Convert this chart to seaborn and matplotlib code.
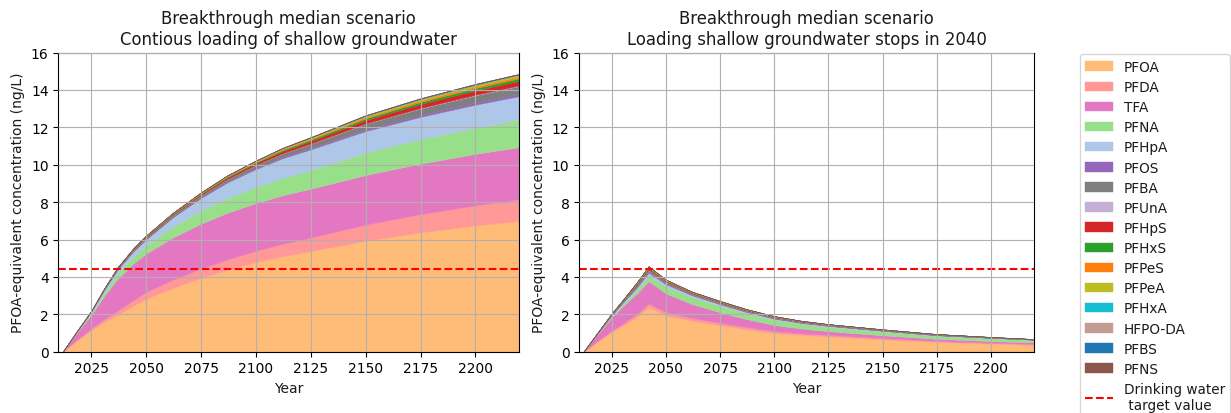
import matplotlib
matplotlib.use("Agg")
import matplotlib.pyplot as plt
import seaborn as sns

# ---- data -------------------------------------------------------------
years = [2012, 2018, 2025, 2031, 2037, 2044, 2050, 2062, 2075, 2087,
         2100, 2112, 2125, 2150, 2175, 2200, 2220]

# Continuous loading scenario (ng/L, PFOA-equivalent)
cont_PFOA = [0, 0.55, 1.15, 1.6, 1.98, 2.45, 2.84, 3.4, 3.95, 4.38, 4.8, 5.1, 5.38, 5.93, 6.38, 6.75, 7.0]
cont_PFDA = [0, 0.05, 0.1, 0.15, 0.22, 0.3, 0.36, 0.45, 0.5, 0.55, 0.6, 0.66, 0.72, 0.87, 0.98, 1.08, 1.15]
cont_TFA = [0, 0.35, 0.72, 1.25, 1.7, 1.95, 2.05, 2.25, 2.4, 2.5, 2.55, 2.6, 2.62, 2.65, 2.7, 2.75, 2.79]
cont_PFNA = [0, 0.03, 0.09, 0.18, 0.28, 0.37, 0.44, 0.58, 0.7, 0.78, 0.85, 0.93, 1.0, 1.2, 1.3, 1.4, 1.48]
cont_PFHpA = [0, 0.03, 0.08, 0.15, 0.22, 0.28, 0.33, 0.5, 0.68, 0.85, 0.97, 1.05, 1.1, 1.15, 1.2, 1.23, 1.25]
cont_PFOS = [0, 0.002, 0.005, 0.008, 0.012, 0.016, 0.02, 0.024, 0.03, 0.038, 0.046, 0.056, 0.066, 0.085, 0.1, 0.112, 0.12]
cont_PFBA = [0, 0.007, 0.018, 0.028, 0.042, 0.056, 0.07, 0.084, 0.105, 0.133, 0.161, 0.196, 0.231, 0.3, 0.35, 0.39, 0.42]
cont_PFUnA = [0, 0.0005, 0.001, 0.002, 0.003, 0.004, 0.005, 0.006, 0.008, 0.01, 0.012, 0.014, 0.017, 0.021, 0.025, 0.028, 0.03]
cont_PFHpS = [0, 0.004, 0.01, 0.017, 0.025, 0.034, 0.042, 0.05, 0.063, 0.08, 0.097, 0.118, 0.139, 0.18, 0.21, 0.235, 0.25]
cont_PFHxS = [0, 0.002, 0.006, 0.009, 0.013, 0.018, 0.022, 0.026, 0.033, 0.042, 0.05, 0.062, 0.073, 0.093, 0.11, 0.122, 0.13]
cont_PFPeS = [0, 0.002, 0.004, 0.007, 0.01, 0.013, 0.017, 0.02, 0.025, 0.032, 0.038, 0.047, 0.055, 0.071, 0.083, 0.093, 0.1]
cont_PFPeA = [0, 0.001, 0.003, 0.005, 0.008, 0.011, 0.013, 0.016, 0.02, 0.025, 0.031, 0.037, 0.044, 0.057, 0.067, 0.075, 0.08]
cont_PFHxA = [0, 0.0003, 0.001, 0.001, 0.002, 0.003, 0.003, 0.004, 0.005, 0.006, 0.008, 0.009, 0.011, 0.014, 0.017, 0.019, 0.02]
cont_HFPODA = [0, 0.0003, 0.001, 0.001, 0.002, 0.003, 0.003, 0.004, 0.005, 0.006, 0.008, 0.009, 0.011, 0.014, 0.017, 0.019, 0.02]
cont_PFBS = [0, 0, 0.0004, 0.0007, 0.001, 0.0013, 0.0017, 0.002, 0.0025, 0.003, 0.004, 0.0045, 0.0055, 0.007, 0.008, 0.009, 0.01]
cont_PFNS = [0, 0.0003, 0.001, 0.001, 0.002, 0.003, 0.003, 0.004, 0.005, 0.006, 0.008, 0.009, 0.011, 0.014, 0.017, 0.019, 0.02]

# Loading stops in 2040 scenario
years_stop = [2012, 2018, 2025, 2031, 2037, 2042, 2050, 2062, 2075, 2087,
              2100, 2112, 2125, 2150, 2175, 2200, 2220]
stop_PFOA = [0, 0.5, 1.05, 1.45, 1.9, 2.4, 1.95, 1.65, 1.42, 1.2, 1.0, 0.9, 0.82, 0.66, 0.52, 0.43, 0.37]
stop_PFDA = [0, 0.04, 0.08, 0.12, 0.15, 0.18, 0.17, 0.15, 0.13, 0.12, 0.1, 0.09, 0.08, 0.07, 0.06, 0.05, 0.05]
stop_TFA = [0, 0.33, 0.7, 0.95, 1.1, 1.2, 1.0, 0.75, 0.56, 0.43, 0.33, 0.26, 0.2, 0.15, 0.11, 0.09, 0.08]
stop_PFNA = [0, 0.02, 0.06, 0.12, 0.2, 0.3, 0.36, 0.37, 0.35, 0.31, 0.28, 0.25, 0.23, 0.2, 0.16, 0.14, 0.12]
stop_PFHpA = [0, 0.02, 0.06, 0.1, 0.13, 0.15, 0.13, 0.1, 0.08, 0.07, 0.06, 0.05, 0.05, 0.04, 0.03, 0.03, 0.02]
stop_PFOS = [0, 0.006, 0.015, 0.024, 0.045, 0.053, 0.038, 0.03, 0.027, 0.024, 0.021, 0.018, 0.015, 0.012, 0.011, 0.008, 0.006]
stop_PFBA = [0, 0.012, 0.03, 0.048, 0.09, 0.105, 0.075, 0.06, 0.054, 0.048, 0.042, 0.036, 0.03, 0.024, 0.021, 0.015, 0.012]
stop_PFUnA = [0, 0.001, 0.003, 0.005, 0.009, 0.011, 0.008, 0.006, 0.005, 0.005, 0.004, 0.004, 0.003, 0.002, 0.002, 0.002, 0.001]
stop_PFHpS = [0, 0.008, 0.02, 0.032, 0.06, 0.07, 0.05, 0.04, 0.036, 0.032, 0.028, 0.024, 0.02, 0.016, 0.014, 0.01, 0.008]
stop_PFHxS = [0, 0.004, 0.01, 0.016, 0.03, 0.035, 0.025, 0.02, 0.018, 0.016, 0.014, 0.012, 0.01, 0.008, 0.007, 0.005, 0.004]
stop_PFPeS = [0, 0.003, 0.007, 0.011, 0.021, 0.025, 0.018, 0.014, 0.013, 0.011, 0.01, 0.008, 0.007, 0.006, 0.005, 0.004, 0.003]
stop_PFPeA = [0, 0.003, 0.007, 0.011, 0.021, 0.025, 0.018, 0.014, 0.013, 0.011, 0.01, 0.008, 0.007, 0.006, 0.005, 0.004, 0.003]
stop_PFHxA = [0, 0.001, 0.002, 0.003, 0.006, 0.007, 0.005, 0.004, 0.004, 0.003, 0.003, 0.002, 0.002, 0.002, 0.001, 0.001, 0.001]
stop_HFPODA = [0, 0.001, 0.002, 0.003, 0.006, 0.007, 0.005, 0.004, 0.004, 0.003, 0.003, 0.002, 0.002, 0.002, 0.001, 0.001, 0.001]
stop_PFBS = [0, 0, 0.001, 0.002, 0.003, 0.004, 0.003, 0.002, 0.002, 0.002, 0.001, 0.001, 0.001, 0.001, 0.001, 0.001, 0]
stop_PFNS = [0, 0.001, 0.003, 0.005, 0.009, 0.011, 0.008, 0.006, 0.005, 0.005, 0.004, 0.004, 0.003, 0.002, 0.002, 0.002, 0.001]

compounds = ["PFOA", "PFDA", "TFA", "PFNA", "PFHpA", "PFOS", "PFBA", "PFUnA",
             "PFHpS", "PFHxS", "PFPeS", "PFPeA", "PFHxA", "HFPO-DA", "PFBS", "PFNS"]

continuous = [cont_PFOA, cont_PFDA, cont_TFA, cont_PFNA, cont_PFHpA, cont_PFOS,
              cont_PFBA, cont_PFUnA, cont_PFHpS, cont_PFHxS, cont_PFPeS, cont_PFPeA,
              cont_PFHxA, cont_HFPODA, cont_PFBS, cont_PFNS]
stopped = [stop_PFOA, stop_PFDA, stop_TFA, stop_PFNA, stop_PFHpA, stop_PFOS,
           stop_PFBA, stop_PFUnA, stop_PFHpS, stop_PFHxS, stop_PFPeS, stop_PFPeA,
           stop_PFHxA, stop_HFPODA, stop_PFBS, stop_PFNS]

target_value = 4.4
year_ticks = [2025, 2050, 2075, 2100, 2125, 2150, 2175, 2200]
conc_ticks = [0, 2, 4, 6, 8, 10, 12, 14, 16]

# ---- style ------------------------------------------------------------
sns.set_theme(style="ticks", rc={
    "axes.edgecolor": "black",
    "axes.linewidth": 0.8,
    "xtick.color": "black",
    "ytick.color": "black",
    "text.color": "#1a1a1a",
    "axes.labelcolor": "#1a1a1a",
    "grid.color": "#b0b0b0",
    "grid.linewidth": 0.8,
    "patch.force_edgecolor": False,
})
plt.rcParams["font.family"] = ["DejaVu Sans"]

colors = ["#ffbb78", "#ff9896", "#e377c2", "#98df8a", "#aec7e8", "#9467bd",
          "#7f7f7f", "#c5b0d5", "#d62728", "#2ca02c", "#ff7f0e", "#bcbd22",
          "#17becf", "#c49c94", "#1f77b4", "#8c564b"]

fig = plt.figure(figsize=(12.31, 4.14), dpi=100)
ax1 = fig.add_axes([0.0474, 0.148, 0.3745, 0.7227])
ax2 = fig.add_axes([0.4705, 0.148, 0.3696, 0.7227])

panels = [
    (ax1, years, continuous, "Breakthrough median scenario\nContious loading of shallow groundwater"),
    (ax2, years_stop, stopped, "Breakthrough median scenario\nLoading shallow groundwater stops in 2040"),
]

tick_fs = 10
for ax, yrs, layers, title in panels:
    polys = ax.stackplot(yrs, *layers, labels=compounds, colors=colors,
                         edgecolor="face", linewidth=0.3)
    line = ax.axhline(target_value, color="red", linestyle="--", linewidth=1.5,
                      label="Drinking water\n target value")
    ax.set_xlim(2010, 2220)
    ax.set_ylim(0, 16)
    ax.set_xticks(year_ticks)
    ax.set_yticks(conc_ticks)
    ax.set_axisbelow(False)
    ax.grid(True)
    ax.tick_params(labelsize=tick_fs, length=3.5, width=0.8)
    ax.set_xlabel("Year", fontsize=tick_fs)
    ax.set_ylabel("PFOA-equivalent concentration (ng/L)", fontsize=tick_fs)
    ax.set_title(title, fontsize=11.9)

handles = list(polys) + [line]
labels = compounds + ["Drinking water\n target value"]
fig.legend(handles, labels, loc="upper left", bbox_to_anchor=(0.8773, 0.866),
           borderaxespad=0, fontsize=9.8, labelspacing=0.45, frameon=True)

fig.savefig("out.png", dpi=100)
